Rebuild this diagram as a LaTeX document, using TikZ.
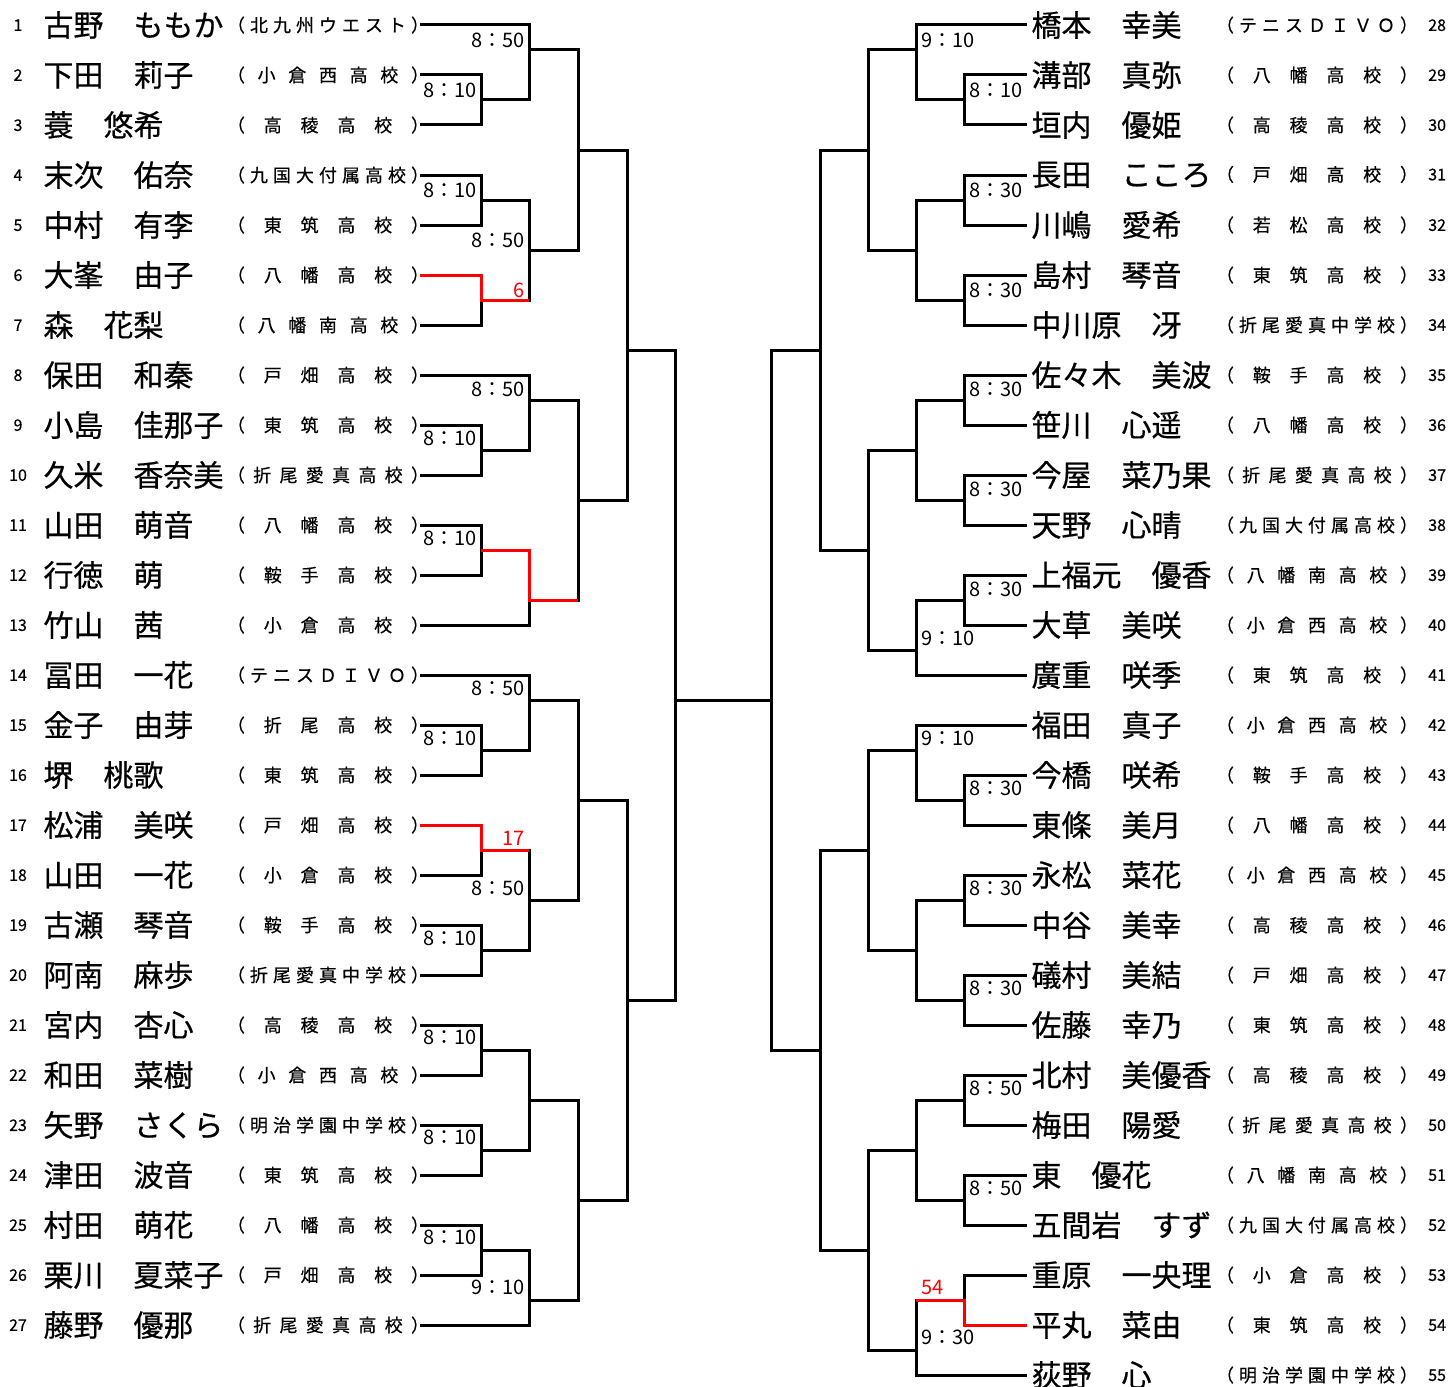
\documentclass[tikz,border=0pt]{standalone}
\usepackage{fontspec}
\setmainfont{Noto Sans CJK JP}
\newfontfamily\heavyjp{Noto Sans CJK JP}[FakeBold=0.5]
\usepackage{tikz}
\usetikzlibrary{calc}
\usetikzlibrary{positioning}

% spread the school name over a fixed width
\def\spreadfirst#1{#1\spreadrest}
\def\spreadrest#1{\ifx#1\relax\else\hfil#1\expandafter\spreadrest\fi}
\newcommand\school[1]{\raisebox{4.5pt}{\hbox to 202pt{\heavyjp\fontsize{18}{18}\selectfont\spreadfirst#1\relax}}}
\newcommand\lplayer[3]{\makebox[36pt]{\raisebox{5.5pt}{\heavyjp\fontsize{16}{16}\selectfont #1}}\kern7.5pt\makebox[183.5pt][l]{\heavyjp\fontsize{30}{30}\selectfont #2}\school{#3}\kern-9pt}
\newcommand\rplayer[3]{\kern4.5pt\makebox[184.5pt][l]{\heavyjp\fontsize{30}{30}\selectfont #2}\school{#3}\makebox[28pt][r]{\raisebox{5.5pt}{\heavyjp\fontsize{16}{16}\selectfont #1}}}

\begin{document}
\begin{tikzpicture}[x=1pt, y=-1pt,
  row/.style={anchor=west, inner sep=0pt, outer sep=0pt},
  timel/.style={anchor=east, inner sep=0pt, font=\fontsize{20}{20}\selectfont},
  timer/.style={anchor=west, inner sep=0pt, font=\fontsize{20}{20}\selectfont},
  bline/.style={line width=3pt, draw=black},
  rline/.style={line width=3pt, draw=red}]
\useasboundingbox (0, 0) rectangle (1450, 1386);

% left players
\node [row] (p1) at (0, 25) {\lplayer{1}{古野　ももか}{（北九州ウエスト）}};
\node [row] (p2) at (0, 75) {\lplayer{2}{下田　莉子}{（小倉西高校）}};
\node [row] (p3) at (0, 125) {\lplayer{3}{蓑　悠希}{（高稜高校）}};
\node [row] (p4) at (0, 175) {\lplayer{4}{末次　佑奈}{（九国大付属高校）}};
\node [row] (p5) at (0, 225) {\lplayer{5}{中村　有李}{（東筑高校）}};
\node [row] (p6) at (0, 275) {\lplayer{6}{大峯　由子}{（八幡高校）}};
\node [row] (p7) at (0, 325) {\lplayer{7}{森　花梨}{（八幡南高校）}};
\node [row] (p8) at (0, 375) {\lplayer{8}{保田　和秦}{（戸畑高校）}};
\node [row] (p9) at (0, 425) {\lplayer{9}{小島　佳那子}{（東筑高校）}};
\node [row] (p10) at (0, 475) {\lplayer{10}{久米　香奈美}{（折尾愛真高校）}};
\node [row] (p11) at (0, 525) {\lplayer{11}{山田　萌音}{（八幡高校）}};
\node [row] (p12) at (0, 575) {\lplayer{12}{行徳　萌}{（鞍手高校）}};
\node [row] (p13) at (0, 625) {\lplayer{13}{竹山　茜}{（小倉高校）}};
\node [row] (p14) at (0, 675) {\lplayer{14}{冨田　一花}{（テニスＤＩＶＯ）}};
\node [row] (p15) at (0, 725) {\lplayer{15}{金子　由芽}{（折尾高校）}};
\node [row] (p16) at (0, 775) {\lplayer{16}{堺　桃歌}{（東筑高校）}};
\node [row] (p17) at (0, 825) {\lplayer{17}{松浦　美咲}{（戸畑高校）}};
\node [row] (p18) at (0, 875) {\lplayer{18}{山田　一花}{（小倉高校）}};
\node [row] (p19) at (0, 925) {\lplayer{19}{古瀬　琴音}{（鞍手高校）}};
\node [row] (p20) at (0, 975) {\lplayer{20}{阿南　麻歩}{（折尾愛真中学校）}};
\node [row] (p21) at (0, 1025) {\lplayer{21}{宮内　杏心}{（高稜高校）}};
\node [row] (p22) at (0, 1075) {\lplayer{22}{和田　菜樹}{（小倉西高校）}};
\node [row] (p23) at (0, 1125) {\lplayer{23}{矢野　さくら}{（明治学園中学校）}};
\node [row] (p24) at (0, 1175) {\lplayer{24}{津田　波音}{（東筑高校）}};
\node [row] (p25) at (0, 1225) {\lplayer{25}{村田　萌花}{（八幡高校）}};
\node [row] (p26) at (0, 1275) {\lplayer{26}{栗川　夏菜子}{（戸畑高校）}};
\node [row] (p27) at (0, 1325) {\lplayer{27}{藤野　優那}{（折尾愛真高校）}};

% right players
\node [row] (p28) at (1027, 25) {\rplayer{28}{橋本　幸美}{（テニスＤＩＶＯ）}};
\node [row] (p29) at (1027, 75) {\rplayer{29}{溝部　真弥}{（八幡高校）}};
\node [row] (p30) at (1027, 125) {\rplayer{30}{垣内　優姫}{（高稜高校）}};
\node [row] (p31) at (1027, 175) {\rplayer{31}{長田　こころ}{（戸畑高校）}};
\node [row] (p32) at (1027, 225) {\rplayer{32}{川嶋　愛希}{（若松高校）}};
\node [row] (p33) at (1027, 275) {\rplayer{33}{島村　琴音}{（東筑高校）}};
\node [row] (p34) at (1027, 325) {\rplayer{34}{中川原　冴}{（折尾愛真中学校）}};
\node [row] (p35) at (1027, 375) {\rplayer{35}{佐々木　美波}{（鞍手高校）}};
\node [row] (p36) at (1027, 425) {\rplayer{36}{笹川　心遥}{（八幡高校）}};
\node [row] (p37) at (1027, 475) {\rplayer{37}{今屋　菜乃果}{（折尾愛真高校）}};
\node [row] (p38) at (1027, 525) {\rplayer{38}{天野　心晴}{（九国大付属高校）}};
\node [row] (p39) at (1027, 575) {\rplayer{39}{上福元　優香}{（八幡南高校）}};
\node [row] (p40) at (1027, 625) {\rplayer{40}{大草　美咲}{（小倉西高校）}};
\node [row] (p41) at (1027, 675) {\rplayer{41}{廣重　咲季}{（東筑高校）}};
\node [row] (p42) at (1027, 725) {\rplayer{42}{福田　真子}{（小倉西高校）}};
\node [row] (p43) at (1027, 775) {\rplayer{43}{今橋　咲希}{（鞍手高校）}};
\node [row] (p44) at (1027, 825) {\rplayer{44}{東條　美月}{（八幡高校）}};
\node [row] (p45) at (1027, 875) {\rplayer{45}{永松　菜花}{（小倉西高校）}};
\node [row] (p46) at (1027, 925) {\rplayer{46}{中谷　美幸}{（高稜高校）}};
\node [row] (p47) at (1027, 975) {\rplayer{47}{礒村　美結}{（戸畑高校）}};
\node [row] (p48) at (1027, 1025) {\rplayer{48}{佐藤　幸乃}{（東筑高校）}};
\node [row] (p49) at (1027, 1075) {\rplayer{49}{北村　美優香}{（高稜高校）}};
\node [row] (p50) at (1027, 1125) {\rplayer{50}{梅田　陽愛}{（折尾愛真高校）}};
\node [row] (p51) at (1027, 1175) {\rplayer{51}{東　優花}{（八幡南高校）}};
\node [row] (p52) at (1027, 1225) {\rplayer{52}{五間岩　すず}{（九国大付属高校）}};
\node [row] (p53) at (1027, 1275) {\rplayer{53}{重原　一央理}{（小倉高校）}};
\node [row] (p54) at (1027, 1325) {\rplayer{54}{平丸　菜由}{（東筑高校）}};
\node [row] (p55) at (1027, 1375) {\rplayer{55}{荻野　心}{（明治学園中学校）}};

% left bracket
\coordinate (a23) at (481, 100);
\coordinate (a45) at (481, 200);
\coordinate (a67) at (481, 300);
\coordinate (a910) at (481, 450);
\coordinate (a1112) at (481, 550);
\coordinate (a1516) at (481, 750);
\coordinate (a1718) at (481, 850);
\coordinate (a1920) at (481, 950);
\coordinate (a2122) at (481, 1050);
\coordinate (a2324) at (481, 1150);
\coordinate (a2526) at (481, 1250);
\coordinate (b1) at (529, 50);
\coordinate (b2) at (529, 250);
\coordinate (b3) at (529, 400);
\coordinate (b4) at (529, 600);
\coordinate (b5) at (529, 700);
\coordinate (b6) at (529, 900);
\coordinate (b7) at (529, 1100);
\coordinate (b8) at (529, 1300);
\coordinate (c1) at (578, 150);
\coordinate (c2) at (578, 500);
\coordinate (c3) at (578, 800);
\coordinate (c4) at (578, 1200);
\coordinate (d1) at (627, 350);
\coordinate (d2) at (627, 1000);
\coordinate (e1) at (675, 700);

% right bracket
\coordinate (ra2930) at (964, 100);
\coordinate (ra3132) at (964, 200);
\coordinate (ra3334) at (964, 300);
\coordinate (ra3536) at (964, 400);
\coordinate (ra3738) at (964, 500);
\coordinate (ra3940) at (964, 600);
\coordinate (ra4344) at (964, 800);
\coordinate (ra4546) at (964, 900);
\coordinate (ra4748) at (964, 1000);
\coordinate (ra4950) at (964, 1100);
\coordinate (ra5152) at (964, 1200);
\coordinate (ra5354) at (964, 1300);
\coordinate (rb1) at (916, 50);
\coordinate (rb2) at (916, 250);
\coordinate (rb3) at (916, 450);
\coordinate (rb4) at (916, 650);
\coordinate (rb5) at (916, 750);
\coordinate (rb6) at (916, 950);
\coordinate (rb7) at (916, 1150);
\coordinate (rb8) at (916, 1350);
\coordinate (rc1) at (868, 150);
\coordinate (rc2) at (868, 550);
\coordinate (rc3) at (868, 850);
\coordinate (rc4) at (868, 1250);
\coordinate (rd1) at (820, 350);
\coordinate (rd2) at (820, 1050);
\coordinate (re1) at (771, 700);

\draw [bline] (p1.east) -| (b1) (p2.east) -| (a23) (p3.east) -| (a23) (a23) -| (b1);
\draw [bline] (p4.east) -| (a45) (p5.east) -| (a45) (p6.east) -| (a67) (p7.east) -| (a67) (a45) -| (b2) (a67) -| (b2);
\draw [bline] (p8.east) -| (b3) (p9.east) -| (a910) (p10.east) -| (a910) (a910) -| (b3);
\draw [bline] (p11.east) -| (a1112) (p12.east) -| (a1112) (a1112) -| (b4) (p13.east) -| (b4);
\draw [bline] (p14.east) -| (b5) (p15.east) -| (a1516) (p16.east) -| (a1516) (a1516) -| (b5);
\draw [bline] (p17.east) -| (a1718) (p18.east) -| (a1718) (p19.east) -| (a1920) (p20.east) -| (a1920) (a1718) -| (b6) (a1920) -| (b6);
\draw [bline] (p21.east) -| (a2122) (p22.east) -| (a2122) (p23.east) -| (a2324) (p24.east) -| (a2324) (a2122) -| (b7) (a2324) -| (b7);
\draw [bline] (p25.east) -| (a2526) (p26.east) -| (a2526) (a2526) -| (b8) (p27.east) -| (b8);
\draw [bline] (b1) -| (c1) (b2) -| (c1) (b3) -| (c2) (b4) -| (c2) (b5) -| (c3) (b6) -| (c3) (b7) -| (c4) (b8) -| (c4);
\draw [bline] (c1) -| (d1) (c2) -| (d1) (c3) -| (d2) (c4) -| (d2) (d1) -| (e1) (d2) -| (e1);
\draw [bline] (e1) -- (re1);

\draw [bline] (p28.west) -| (rb1) (p29.west) -| (ra2930) (p30.west) -| (ra2930) (ra2930) -| (rb1);
\draw [bline] (p31.west) -| (ra3132) (p32.west) -| (ra3132) (p33.west) -| (ra3334) (p34.west) -| (ra3334) (ra3132) -| (rb2) (ra3334) -| (rb2);
\draw [bline] (p35.west) -| (ra3536) (p36.west) -| (ra3536) (p37.west) -| (ra3738) (p38.west) -| (ra3738) (ra3536) -| (rb3) (ra3738) -| (rb3);
\draw [bline] (p39.west) -| (ra3940) (p40.west) -| (ra3940) (ra3940) -| (rb4) (p41.west) -| (rb4);
\draw [bline] (p42.west) -| (rb5) (p43.west) -| (ra4344) (p44.west) -| (ra4344) (ra4344) -| (rb5);
\draw [bline] (p45.west) -| (ra4546) (p46.west) -| (ra4546) (p47.west) -| (ra4748) (p48.west) -| (ra4748) (ra4546) -| (rb6) (ra4748) -| (rb6);
\draw [bline] (p49.west) -| (ra4950) (p50.west) -| (ra4950) (p51.west) -| (ra5152) (p52.west) -| (ra5152) (ra4950) -| (rb7) (ra5152) -| (rb7);
\draw [bline] (p53.west) -| (ra5354) (p54.west) -| (ra5354) (ra5354) -| (rb8) (p55.west) -| (rb8);
\draw [bline] (rb1) -| (rc1) (rb2) -| (rc1) (rb3) -| (rc2) (rb4) -| (rc2) (rb5) -| (rc3) (rb6) -| (rc3) (rb7) -| (rc4) (rb8) -| (rc4);
\draw [bline] (rc1) -| (rd1) (rc2) -| (rd1) (rc3) -| (rd2) (rc4) -| (rd2) (rd1) -| (re1) (rd2) -| (re1);

% winners by default
\draw [rline] (p6.east) -| (a67) -- (a67 -| b2);
\draw [rline] (a1112) -| (b4) -- (b4 -| c2);
\draw [rline] (p17.east) -| (a1718) -- (a1718 -| b6);
\draw [rline] (p54.west) -| (ra5354) -- (ra5354 -| rb8);

% times, left
\node [timel] (lt1) at (525, 40) {8：50};
\node [timel] (lt2) at (477, 90) {8：10};
\node [timel] (lt3) at (477, 190) {8：10};
\node [timel] (lt4) at (525, 240) {8：50};
\node [timel, text=red] (lt5) at (525, 290) {6};
\node [timel] (lt6) at (525, 389) {8：50};
\node [timel] (lt7) at (477, 438) {8：10};
\node [timel] (lt8) at (477, 538) {8：10};
\node [timel] (lt9) at (525, 688) {8：50};
\node [timel] (lt10) at (477, 738) {8：10};
\node [timel, text=red] (lt11) at (525, 838) {17};
\node [timel] (lt12) at (525, 888) {8：50};
\node [timel] (lt13) at (477, 938) {8：10};
\node [timel] (lt14) at (477, 1037) {8：10};
\node [timel] (lt15) at (477, 1137) {8：10};
\node [timel] (lt16) at (477, 1237) {8：10};
\node [timel] (lt17) at (525, 1287) {9：10};

% times, right
\node [timer] (rt1) at (921, 40) {9：10};
\node [timer] (rt2) at (969, 90) {8：10};
\node [timer] (rt3) at (969, 190) {8：30};
\node [timer] (rt4) at (969, 290) {8：30};
\node [timer] (rt5) at (969, 389) {8：30};
\node [timer] (rt6) at (969, 489) {8：30};
\node [timer] (rt7) at (969, 589) {8：30};
\node [timer] (rt8) at (921, 638) {9：10};
\node [timer] (rt9) at (921, 738) {9：10};
\node [timer] (rt10) at (969, 788) {8：30};
\node [timer] (rt11) at (969, 888) {8：30};
\node [timer] (rt12) at (969, 988) {8：30};
\node [timer] (rt13) at (969, 1088) {8：50};
\node [timer] (rt14) at (969, 1188) {8：50};
\node [timer, text=red] (rt15) at (921, 1287) {54};
\node [timer] (rt16) at (921, 1337) {9：30};
\end{tikzpicture}
\end{document}
